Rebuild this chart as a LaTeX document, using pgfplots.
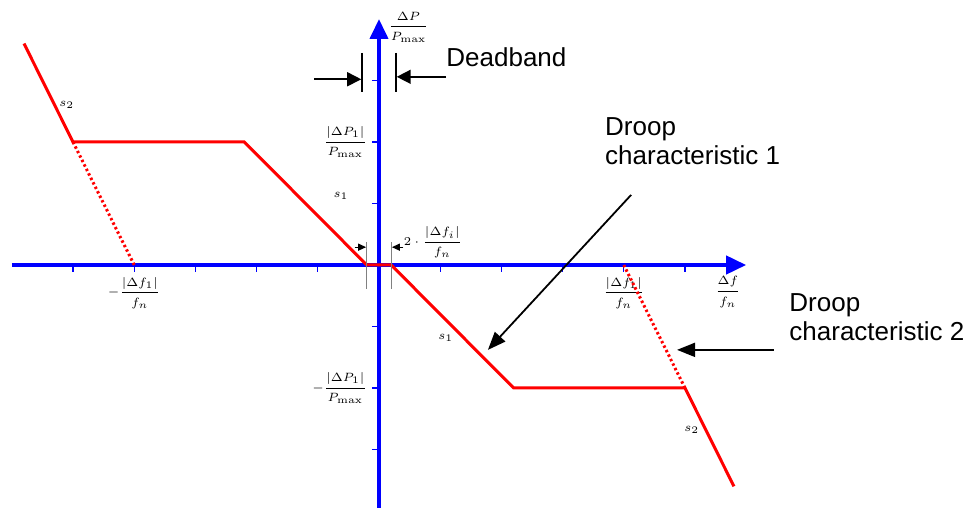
\documentclass[border=0pt]{standalone}
\usepackage{pgfplots}
\pgfplotsset{compat=1.18}
\usepackage{amsmath}
\usepackage[no-math]{fontspec}
\setmainfont{Liberation Sans}
\usetikzlibrary{arrows.meta}

\newcommand{\smallmath}{\fontsize{6.5}{7.5}\selectfont}
\newcommand{\notefont}{\fontsize{13}{16}\selectfont}

\begin{document}
\begin{tikzpicture}
\begin{axis}[
  at={(0,0)}, anchor=origin,
  x=30.6pt, y=30.75pt,
  xmin=-6, xmax=6, ymin=-4, ymax=4,
  axis lines=middle,
  axis line style={blue, line width=2pt},
  x axis line style={-{Triangle[length=10pt,width=9pt]}},
  y axis line style={-{Triangle[length=10pt,width=9pt]}},
  tick align=outside,
  major tick length=3.5pt,
  tick style={blue, line width=0.6pt},
  xtick={-5,-4,-3,-2,-1,1,2,3,4,5},
  xticklabels={,{$-\dfrac{\left|\Delta f_1\right|}{f_n}$},,,,,,,{$\dfrac{\left|\Delta f_1\right|}{f_n}$},},
  ytick={-3,-2,-1,1,2,3},
  yticklabels={,{$-\dfrac{\left|\Delta P_1\right|}{P_{\mathrm{max}}}$},,,{$\dfrac{\left|\Delta P_1\right|}{P_{\mathrm{max}}}$},},
  ticklabel style={font=\smallmath},
  xticklabel style={yshift=1pt},
  yticklabel style={xshift=1pt},
  xlabel={$\dfrac{\Delta f}{f_n}$},
  ylabel={$\dfrac{\Delta P}{P_{\mathrm{max}}}$},
  every axis x label/.style={at={(axis cs:5.70,-0.44)}, anchor=center, font=\smallmath},
  every axis y label/.style={at={(axis cs:0.15,3.87)}, anchor=west, inner sep=0pt, font=\smallmath},
  clip=false,
]
% droop characteristic 1 with deadband and steeper s2 section
\addplot[red, line width=1.5pt, mark=none] coordinates {
  (-5.8,3.6) (-5,2) (-2.2,2) (-0.2,0) (0.2,0) (2.2,-2) (5,-2) (5.8,-3.6)};
% droop characteristic 2 (dotted continuation)
\addplot[red, line width=1.5pt, mark=none, dash pattern=on 1.2pt off 1.3pt] coordinates {(-5,2) (-4,0)};
\addplot[red, line width=1.5pt, mark=none, dash pattern=on 1.2pt off 1.3pt] coordinates {(4,0) (5,-2)};

% slope labels
\node[font=\smallmath] at (axis cs:-5.10,2.60) {$s_2$};
\node[font=\smallmath] at (axis cs:-0.62,1.12) {$s_1$};
\node[font=\smallmath] at (axis cs:1.09,-1.19) {$s_1$};
\node[font=\smallmath] at (axis cs:5.11,-2.68) {$s_2$};

% deadband marker at the top
\draw[line width=0.8pt] (axis cs:-0.278,3.45) -- (axis cs:-0.278,2.81);
\draw[line width=0.8pt] (axis cs:0.278,3.45) -- (axis cs:0.278,2.81);
\draw[line width=0.8pt, -{Triangle[length=7pt,width=7pt]}] (axis cs:-1.06,3.02) -- (axis cs:-0.29,3.02);
\draw[line width=0.8pt, -{Triangle[length=7pt,width=7pt]}] (axis cs:1.095,3.06) -- (axis cs:0.29,3.06);
\node[font=\notefont, anchor=base west, inner sep=0pt] at (axis cs:1.095,3.22) {Deadband};

% deadband width near the origin
\draw[gray, line width=0.5pt] (axis cs:-0.2,0.37) -- (axis cs:-0.2,-0.39);
\draw[gray, line width=0.5pt] (axis cs:0.2,0.37) -- (axis cs:0.2,-0.39);
\draw[line width=0.6pt, -{Triangle[length=4pt,width=3.5pt]}] (axis cs:-0.40,0.29) -- (axis cs:-0.21,0.29);
\draw[line width=0.6pt, -{Triangle[length=4pt,width=3.5pt]}] (axis cs:0.40,0.29) -- (axis cs:0.21,0.29);
\node[font=\smallmath, anchor=west, inner sep=0pt] at (axis cs:0.40,0.37) {$2\cdot\dfrac{\left|\Delta f_i\right|}{f_n}$};

% characteristic callouts
\draw[line width=0.9pt, -{Triangle[length=9pt,width=7pt]}] (axis cs:4.12,1.14) -- (axis cs:1.78,-1.38);
\node[font=\notefont, anchor=base west, inner sep=0pt] at (axis cs:3.69,2.11) {Droop};
\node[font=\notefont, anchor=base west, inner sep=0pt] at (axis cs:3.69,1.63) {characteristic 1};
\draw[line width=0.9pt, -{Triangle[length=9pt,width=7pt]}] (axis cs:6.45,-1.38) -- (axis cs:4.87,-1.38);
\node[font=\notefont, anchor=base west, inner sep=0pt] at (axis cs:6.70,-0.75) {Droop};
\node[font=\notefont, anchor=base west, inner sep=0pt] at (axis cs:6.70,-1.22) {characteristic 2};
\end{axis}
\pgfresetboundingbox
\path[use as bounding box] (-189.5pt,-121.5pt) rectangle (298.5pt,132.5pt);
\end{tikzpicture}
\end{document}
